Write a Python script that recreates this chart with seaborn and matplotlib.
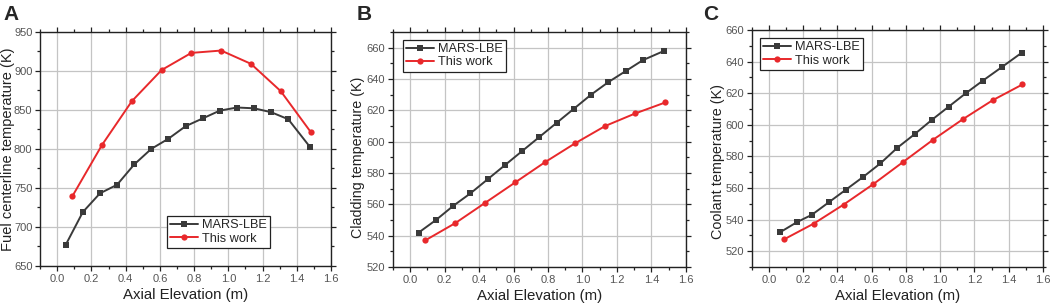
import matplotlib
matplotlib.use("Agg")
import matplotlib.pyplot as plt
import pandas as pd
import seaborn as sns
from matplotlib.ticker import MultipleLocator

# axial positions (m)
mars_x_a = [0.05, 0.15, 0.25, 0.35, 0.45, 0.55, 0.65, 0.75, 0.85, 0.95, 1.05, 1.15, 1.25, 1.35, 1.475]
mars_x_c = [0.065, 0.165, 0.25, 0.35, 0.45, 0.55, 0.65, 0.75, 0.85, 0.95, 1.05, 1.15, 1.25, 1.36, 1.475]
work_x = [0.088, 0.262, 0.436, 0.61, 0.784, 0.958, 1.132, 1.306, 1.48]

# A: fuel centerline temperature (K)
fuel_mars = [677, 719, 743, 754, 780, 800, 813, 829, 839, 849, 853, 852, 847, 838, 803]
fuel_work = [739, 805, 861, 901, 923, 926, 909, 874, 822]

# B: cladding temperature (K)
clad_mars = [542, 550, 559, 567, 576, 585, 594, 603, 612, 621, 630, 638, 645, 652, 658]
clad_work = [537, 548, 561, 574, 587, 599, 610, 618, 625]

# C: coolant temperature (K)
cool_mars = [532, 538.5, 543, 551, 559, 567, 575.5, 585.5, 594, 603, 611.5, 620, 628, 636.5, 645.5]
cool_work = [527.5, 537.5, 549.5, 562.5, 576.5, 590.5, 603.5, 615.5, 625.5]

series_names = ["MARS-LBE", "This work"]
colors = {"MARS-LBE": "#3a3a3a", "This work": "#e8282b"}
markers = {"MARS-LBE": "s", "This work": "o"}


def to_frame(mx, my, wx, wy):
    return pd.concat([
        pd.DataFrame({"x": mx, "y": my, "series": series_names[0]}),
        pd.DataFrame({"x": wx, "y": wy, "series": series_names[1]}),
    ], ignore_index=True)


sns.set_theme(style="ticks")
plt.rcParams["font.family"] = ["Liberation Sans", "DejaVu Sans"]

fig = plt.figure(figsize=(10.59, 3.06), dpi=100)

panels = [
    ("A", 0.003, [0.0378, 0.131, 0.2748, 0.765], to_frame(mars_x_a, fuel_mars, work_x, fuel_work),
     "Fuel centerline temperature (K)", (650, 950), 50, (-0.086, 0.5, 10.5),
     dict(loc="lower left", bbox_to_anchor=(0.436, 0.077))),
    ("B", 0.337, [0.371, 0.1275, 0.2767, 0.768], to_frame(mars_x_a, clad_mars, work_x, clad_work),
     "Cladding temperature (K)", (520, 670), 20, (-0.096, 0.466, 10.3),
     dict(loc="upper left", bbox_to_anchor=(0.034, 0.966))),
    ("C", 0.664, [0.710, 0.1275, 0.2748, 0.7745], to_frame(mars_x_c, cool_mars, work_x, cool_work),
     "Coolant temperature (K)", (510, 660), 20, (-0.093, 0.447, 10.4),
     dict(loc="upper left", bbox_to_anchor=(0.027, 0.966))),
]

for letter, letter_x, rect, frame, ylabel, ylim, ymajor, ylab_pos, legend_kw in panels:
    ax = fig.add_axes(rect)
    sns.lineplot(data=frame, x="x", y="y", hue="series", style="series",
                 markers=markers, dashes=False, palette=colors,
                 linewidth=1.4, markersize=4.5, markeredgewidth=0, ax=ax)
    ax.set_xlim(-0.1, 1.6)
    ax.set_ylim(*ylim)
    ax.xaxis.set_major_locator(MultipleLocator(0.2))
    ax.xaxis.set_minor_locator(MultipleLocator(0.1))
    ax.yaxis.set_major_locator(MultipleLocator(ymajor))
    ax.yaxis.set_minor_locator(MultipleLocator(ymajor / 2))
    ax.grid(True, which="major", color="#c4c4c4", linewidth=0.9)
    ax.set_axisbelow(True)
    for side in ["left", "bottom", "right", "top"]:
        ax.spines[side].set_visible(True)
        ax.spines[side].set_color("#222222")
        ax.spines[side].set_linewidth(1.0)
    ax.tick_params(which="both", direction="out", colors="#222222", labelcolor="#555555",
                   labelsize=8, width=0.9, pad=2)
    ax.tick_params(which="major", length=3.5)
    ax.tick_params(which="minor", length=2)
    ax.tick_params(axis="x", which="both", top=True, direction="in")
    ax.tick_params(axis="x", which="both", bottom=True, direction="out")
    ax.tick_params(axis="y", which="both", right=True)
    ax.set_xticks([0.0, 0.2, 0.4, 0.6, 0.8, 1.0, 1.2, 1.4, 1.6])
    ax.set_xticklabels(["0.0", "0.2", "0.4", "0.6", "0.8", "1.0", "1.2", "1.4", "1.6"])
    ax.set_xlabel("Axial Elevation (m)", fontsize=10.8, color="#222222", labelpad=3)
    ax.set_ylabel(ylabel, fontsize=ylab_pos[2], color="#222222")
    ax.yaxis.set_label_coords(ylab_pos[0], ylab_pos[1])
    leg = ax.legend(title=None, fontsize=9.2, frameon=True, fancybox=False,
                    edgecolor="#222222", framealpha=1, borderpad=0.25, borderaxespad=0,
                    handlelength=2.2, handletextpad=0.3, labelspacing=0.1,
                    **legend_kw)
    leg.get_frame().set_linewidth(0.9)
    fig.text(letter_x, 0.984, letter, fontsize=15, fontweight="bold", va="top", ha="left")

fig.savefig("out.png", dpi=100)
